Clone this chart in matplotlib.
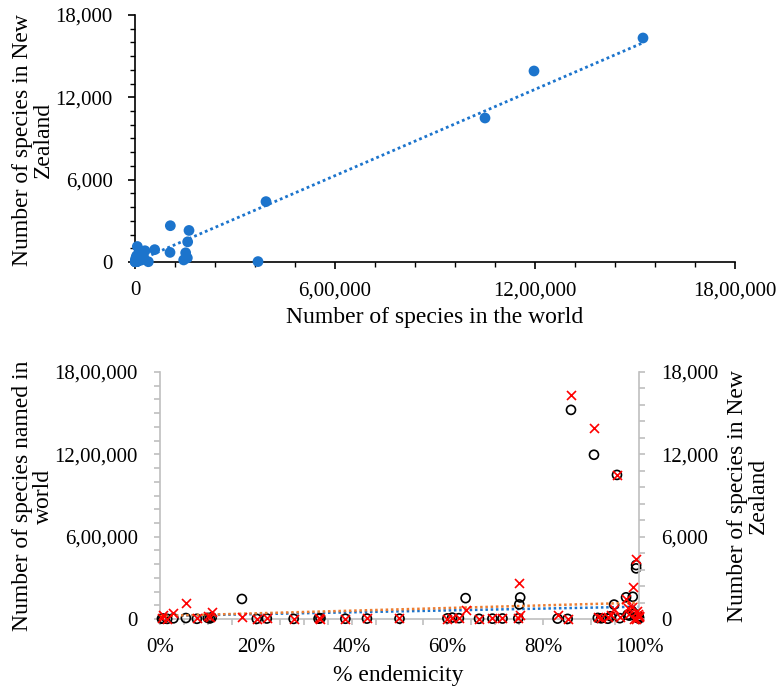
import matplotlib
matplotlib.use('Agg')
import matplotlib.pyplot as plt
import numpy as np
from matplotlib.ticker import MultipleLocator, FuncFormatter

plt.rcParams['font.family'] = ['Liberation Serif', 'DejaVu Serif']

# ---- data: one entry per taxonomic group ----
endemicity = [0.858, 0.906, 0.954, 0.994, 0.994, 0.750, 0.987, 0.973, 0.638, 0.752,
              0.171, 0.948, 0.054, 0.028, 0.007, 0.108, 0.830, 0.985, 0.976, 0.990,
              0.004, 0.015, 0.077, 0.100, 0.104, 0.202, 0.223, 0.279, 0.331, 0.335,
              0.387, 0.432, 0.500, 0.600, 0.610, 0.624, 0.666, 0.694, 0.715, 0.748,
              0.851, 0.914, 0.921, 0.941, 0.980, 0.995, 0.997, 1.000, 1.000, 0.999,
              0.935, 0.960]
world_species = [1524000, 1197000, 1050000, 393000, 369000, 106000, 162000, 158000, 152000, 157000,
                 146000, 105000, 7000, 5000, 3000, 12000, 3000, 59000, 30000, 40000,
                 2000, 1000, 1500, 8000, 4000, 1200, 3500, 900, 2500, 6000,
                 1800, 3000, 2200, 4500, 10000, 6000, 1500, 2500, 3500, 5000,
                 1000, 8000, 5000, 20000, 25000, 15000, 8000, 3000, 12000, 20000,
                 2000, 6000]
nz_species = [16324, 13919, 10494, 4400, 30, 2645, 2300, 1470, 670, 300,
              150, 700, 1130, 460, 290, 490, 290, 900, 820, 20,
              60, 30, 40, 250, 120, 30, 60, 20, 45, 30,
              25, 40, 50, 30, 70, 60, 30, 40, 50, 60,
              15, 150, 100, 300, 400, 600, 350, 200, 250, 150,
              120, 180]

# trendline values at 0% and 100% endemicity
trend_endemicity = [0.0, 1.0]
trend_world = [21900, 89600]
trend_nz = [219, 1188]

blue = '#1c74cc'
orange = '#ed7d31'
grey = '#bfbfbf'


def indian(v, pos=None):
    s = str(int(round(v)))
    if len(s) <= 3:
        return s
    last3, rest = s[-3:], s[:-3]
    parts = []
    while len(rest) > 2:
        parts.insert(0, rest[-2:])
        rest = rest[:-2]
    if rest:
        parts.insert(0, rest)
    return ','.join(parts + [last3])


fmt = FuncFormatter(indian)
TICK = 15
TITLE = 17

fig = plt.figure(figsize=(7.78, 6.87), dpi=100)

# ---------------- top chart ----------------
ax1 = fig.add_axes([135/778, 1-262/687, 600/778, 247/687])
ax1.scatter(world_species, nz_species, s=60, color=blue, edgecolors='none',
            zorder=3, clip_on=False)
w = np.array(world_species, float)
n = np.array(nz_species, float)
coef = np.polyfit(w, n, 1)
xs = np.array([w.min(), w.max()])
ax1.plot(xs, np.polyval(coef, xs), linestyle=(0, (1, 1.1)), lw=2, color=blue, zorder=2)
ax1.set_xlim(0, 1800000)
ax1.set_ylim(0, 18000)
ax1.xaxis.set_major_locator(MultipleLocator(600000))
ax1.xaxis.set_minor_locator(MultipleLocator(120000))
ax1.yaxis.set_major_locator(MultipleLocator(6000))
ax1.yaxis.set_minor_locator(MultipleLocator(1000))
ax1.xaxis.set_major_formatter(fmt)
ax1.yaxis.set_major_formatter(fmt)
for s in ['top', 'right']:
    ax1.spines[s].set_visible(False)
for s in ['left', 'bottom']:
    ax1.spines[s].set_linewidth(1.2)
ax1.tick_params(which='major', direction='out', length=5, width=1.2, labelsize=TICK)
ax1.tick_params(which='minor', direction='out', length=3.5, width=1)
ax1.tick_params(axis='x', which='major', pad=9)
ax1.tick_params(axis='y', which='major', pad=11)
fig.text(435/778, 1-318/687, 'Number of species in the world', fontsize=TITLE,
         ha='center', va='center')
fig.text(33/778, 1-140/687, 'Number of species in New\nZealand', fontsize=TITLE,
         ha='center', va='center', rotation=90, multialignment='center', linespacing=1.0)

# ---------------- bottom chart ----------------
ax2 = fig.add_axes([160/778, 1-619/687, 479/778, 247/687])
ax3 = ax2.twinx()
ax2.scatter(endemicity, world_species, s=42, facecolors='none', edgecolors='black',
            linewidths=1.2, zorder=3, clip_on=False)
ax2.plot(trend_endemicity, trend_world, linestyle=(0, (1, 1.1)), lw=1.8, color=blue, zorder=2)
ax3.scatter(endemicity, nz_species, s=42, marker='x', color='red',
            linewidths=1.2, zorder=3, clip_on=False)
ax3.plot(trend_endemicity, trend_nz, linestyle=(0, (1, 1.1)), lw=1.8, color=orange, zorder=2)

ax2.set_xlim(0, 1)
ax2.set_ylim(0, 1800000)
ax3.set_ylim(0, 18000)
ax2.xaxis.set_major_locator(MultipleLocator(0.2))
ax2.xaxis.set_minor_locator(MultipleLocator(0.05))
ax2.xaxis.set_major_formatter(FuncFormatter(lambda v, p: f'{int(round(v*100))}%'))
ax2.yaxis.set_major_locator(MultipleLocator(600000))
ax2.yaxis.set_minor_locator(MultipleLocator(100000))
ax2.yaxis.set_major_formatter(fmt)
ax3.yaxis.set_major_locator(MultipleLocator(6000))
ax3.yaxis.set_minor_locator(MultipleLocator(1200))
ax3.yaxis.set_major_formatter(fmt)
for a in (ax2, ax3):
    a.spines['top'].set_visible(False)
    for s in ['left', 'right', 'bottom']:
        a.spines[s].set_color(grey)
        a.spines[s].set_linewidth(1.2)
    a.tick_params(which='both', direction='out', color=grey, width=1.2)
    a.tick_params(which='major', length=4, labelsize=TICK)
    a.tick_params(which='minor', length=4)
ax2.spines['right'].set_visible(False)
ax3.spines['left'].set_visible(False)
ax3.spines['bottom'].set_visible(False)
ax2.tick_params(axis='x', which='major', pad=10)
ax2.tick_params(axis='y', which='major', pad=12)
ax3.tick_params(axis='y', which='major', pad=12)
fig.text(398/778, 1-676/687, '% endemicity', fontsize=TITLE, ha='center', va='center')
fig.text(33/778, 1-496/687, 'Number of species named in\nworld', fontsize=TITLE,
         ha='center', va='center', rotation=90, multialignment='center', linespacing=1.0)
fig.text(748/778, 1-496/687, 'Number of species in New\nZealand', fontsize=TITLE,
         ha='center', va='center', rotation=90, multialignment='center', linespacing=1.0)

fig.savefig('out.png', dpi=100)
